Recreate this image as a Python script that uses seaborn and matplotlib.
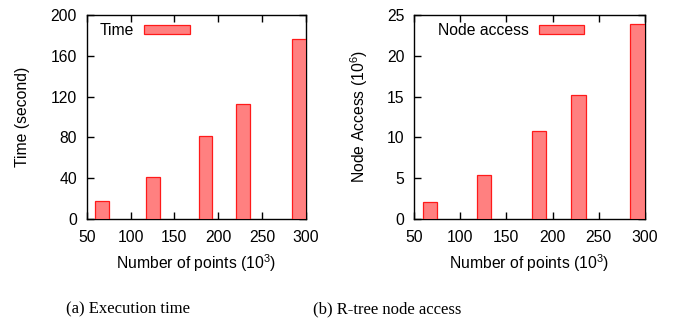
import numpy as np
import pandas as pd
import matplotlib
matplotlib.use('Agg')
import matplotlib.pyplot as plt
import seaborn as sns

# values
points = [67.5, 125.5, 185.5, 228, 292]          # number of points (10^3)
time_sec = [17.3, 41.2, 81.0, 112.4, 176.5]      # execution time (s)
node_access = [2.08, 5.39, 10.74, 15.16, 23.86]  # node access (10^6)

x_ticks = [50, 100, 150, 200, 250, 300]
time_ticks = [0, 40, 80, 120, 160, 200]
node_ticks = [0, 5, 10, 15, 20, 25]

sns.set_style('ticks')
plt.rcParams.update({
    'font.family': ['Liberation Sans', 'DejaVu Sans'],
    'mathtext.fontset': 'custom',
    'mathtext.rm': 'Liberation Sans',
    'mathtext.it': 'Liberation Sans',
    'text.color': 'black',
    'axes.labelcolor': 'black',
    'xtick.color': 'black',
    'ytick.color': 'black',
})

FS = 11.3
FILL = '#FF8080'
EDGE = '#FF1A1A'

fig = plt.figure(figsize=(6.85, 3.2), dpi=100)
ax1 = fig.add_axes([86.7 / 685, 1 - 219 / 320, 219.3 / 685, 204 / 320])
ax2 = fig.add_axes([414 / 685, 1 - 219 / 320, 231 / 685, 204 / 320])

bar_w = 15.5 / np.min(np.diff(sorted(points)))

panels = [
    (ax1, time_sec, 'Time', 'Time (second)', time_ticks, 0.061, -0.2585),
    (ax2, node_access, 'Node access', 'Node Access (10$^6$)', node_ticks, 0.104, -0.19),
]

for ax, vals, lab, ylab, yticks, leg_x, ylab_x in panels:
    df = pd.DataFrame({'points': points, 'value': vals})
    sns.barplot(data=df, x='points', y='value', native_scale=True, ax=ax,
                width=bar_w, color=FILL, saturation=1, edgecolor=EDGE,
                linewidth=0.9, errorbar=None, label=lab, zorder=3)
    ax.set_xlim(50, 300)
    ax.set_ylim(yticks[0], yticks[-1])
    ax.set_xticks(x_ticks)
    ax.set_yticks(yticks)
    ax.tick_params(direction='in', top=True, right=True, length=5, width=1,
                   color='black', labelcolor='black', labelsize=FS, pad=7)
    ax.tick_params(axis='x', pad=8)
    for s in ax.spines.values():
        s.set_visible(True)
        s.set_linewidth(1)
        s.set_color('black')
    ax.set_xlabel('Number of points (10$^3$)', fontsize=FS, color='black')
    ax.set_ylabel(ylab, fontsize=FS, color='black')
    ax.xaxis.set_label_coords(0.5, -0.165)
    ax.yaxis.set_label_coords(ylab_x, 0.5)
    ax.xaxis.label.set_va('top')
    leg = ax.legend(loc='upper left', bbox_to_anchor=(leg_x, 0.96), frameon=False,
                    markerfirst=False, fontsize=FS, borderpad=0, borderaxespad=0,
                    handlelength=2.9, handleheight=0.5, handletextpad=0.63)
    for t in leg.get_texts():
        t.set_color('black')

fig.text(128 / 685, 1 - 309 / 320, '(a) Execution time', ha='center', va='center',
         fontsize=12, family='Liberation Serif', color='black')
fig.text(387 / 685, 1 - 309 / 320, '(b) R-tree node access', ha='center', va='center',
         fontsize=12, family='Liberation Serif', color='black')

fig.savefig('out.png', dpi=100)
